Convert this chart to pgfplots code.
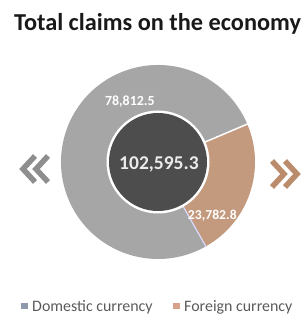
\documentclass[border=0pt]{standalone}
\usepackage{pgfplots}
\pgfplotsset{compat=1.18}
\usepackage{fontspec}
\setmainfont{Carlito}
\definecolor{domc}{HTML}{A6A6A6}
\definecolor{forc}{HTML}{C49A7E}
\definecolor{darkc}{HTML}{4D4D4D}
\definecolor{guil}{HTML}{8E8E8E}
\definecolor{guir}{HTML}{BA8C6C}
\definecolor{legd}{HTML}{8E9AAB}
\definecolor{legf}{HTML}{D8A28A}
\definecolor{legt}{HTML}{5A5A5A}
% data
\def\valDom{78812.5}
\def\valFor{23782.8}
\def\valTot{102595.3}
\edef\angF{\fpeval{360*\valFor/(\valDom+\valFor)}}
\def\aStart{23}
\edef\aEnd{\fpeval{\aStart-\angF}}
\edef\aEndB{\fpeval{\aStart-\angF+360}}
\begin{document}
\begin{tikzpicture}[x=1bp,y=1bp]
\path (0,0) rectangle (307,315);
\begin{axis}[
  at={(61bp,56bp)}, anchor=south west,
  scale only axis, width=194bp, height=194bp,
  xmin=-1, xmax=1, ymin=-1, ymax=1,
  hide axis, clip=false]
  % foreign currency slice
  \fill[forc] (axis cs:0,0) -- ++(\aStart:97bp) arc[start angle=\aStart, end angle=\aEnd, radius=97bp] -- cycle;
  % domestic currency slice
  \fill[domc] (axis cs:0,0) -- ++(\aStart:97bp) arc[start angle=\aStart, end angle=\aEndB, radius=97bp] -- cycle;
  \draw[white, line width=1.5bp] (axis cs:0,0) -- ++(\aStart:97.5bp);
  \draw[white!85!blue, line width=1.2bp] (axis cs:0,0) -- ++(\aEnd:97.5bp);
  \fill[white] (axis cs:0,0) circle[radius=51.5bp];
  \fill[darkc] (axis cs:0,0) circle[radius=49bp];
  \node[white, font=\fontsize{14}{14}\selectfont\bfseries] at (axis cs:-0.29,0.62) {78,812.5};
  \node[white, font=\fontsize{13.7}{14}\selectfont\bfseries] at (axis cs:0.56,-0.55) {23,782.8};
  \node[white!92!black, font=\fontsize{19.6}{20}\selectfont\bfseries] at (axis cs:0.01,-0.03) {102,595.3};
\end{axis}
% title
\node[anchor=base, font=\fontsize{24.4}{25}\selectfont\bfseries, text=black!90] at (157.5,285) {Total claims on the economy};
% guillemets
\begin{scope}[line width=5.5bp, line join=miter, line cap=butt]
  \draw[guil] (35,159) -- (23,146) -- (35,133);
  \draw[guil] (48,159) -- (36,146) -- (48,133);
  \draw[guir] (272,154) -- (284,141) -- (272,128);
  \draw[guir] (285,154) -- (297,141) -- (285,128);
\end{scope}
% legend
\fill[legd] (21,6) rectangle (28,12);
\node[anchor=base west, inner sep=0pt, text=legt, font=\fontsize{16}{16}\selectfont] at (32,4) {Domestic currency};
\fill[legf] (173,6) rectangle (180,12);
\node[anchor=base west, inner sep=0pt, text=legt, font=\fontsize{16}{16}\selectfont] at (184,4) {Foreign currency};
\end{tikzpicture}
\end{document}
